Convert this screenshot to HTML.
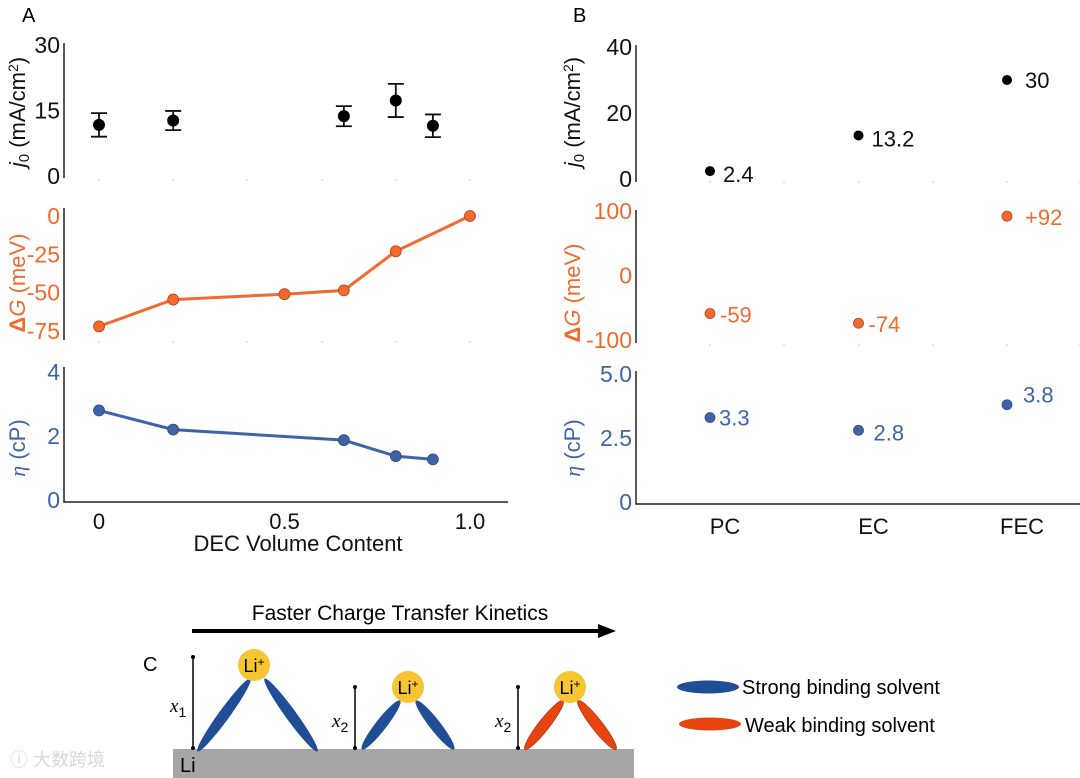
<!DOCTYPE html>
<html><head><meta charset="utf-8"><style>
html,body{margin:0;padding:0;background:#fff;}
svg{display:block;font-family:"Liberation Sans",Arial,sans-serif;}
</style></head><body>
<svg id="fig" width="1080" height="778" viewBox="0 0 1080 778" xmlns="http://www.w3.org/2000/svg">
<g id="gA"></g>
<g id="gB"></g>
<g id="gC">
  <text x="143" y="671" font-size="20">C</text>
  <text x="400" y="620" font-size="21" text-anchor="middle">Faster Charge Transfer Kinetics</text>
  <line x1="192" y1="631" x2="600" y2="631" stroke="#000" stroke-width="4"/>
  <polygon points="598,624 616,631 598,638" fill="#000"/>
  <rect x="173" y="749" width="461" height="29" fill="#a6a6a6"/>
  <text x="180" y="772" font-size="20">Li</text>
  <g>
    <line x1="193" y1="657" x2="193" y2="748" stroke="#000" stroke-width="1.5"/>
    <circle cx="193" cy="657" r="2"/><circle cx="193" cy="748" r="2"/>
    <text x="170" y="712" font-size="19" font-family="Liberation Serif,serif" font-style="italic">x<tspan font-size="14" font-style="normal" font-family="Liberation Sans,sans-serif" dy="5">1</tspan></text>
    <ellipse cx="224" cy="715" rx="45" ry="5.5" fill="#1f4e97" transform="rotate(-54 224 715)"/>
    <ellipse cx="291" cy="715" rx="45" ry="5.5" fill="#1f4e97" transform="rotate(54 291 715)"/>
    <circle cx="254" cy="665" r="16" fill="#f7c531"/>
    <text x="254" y="672" font-size="18" text-anchor="middle">Li<tspan font-size="12" dy="-6">+</tspan></text>
  </g>
  <g>
    <line x1="355" y1="687" x2="355" y2="748" stroke="#000" stroke-width="1.5"/>
    <circle cx="355" cy="687" r="2"/><circle cx="355" cy="748" r="2"/>
    <text x="332" y="727" font-size="19" font-family="Liberation Serif,serif" font-style="italic">x<tspan font-size="14" font-style="normal" font-family="Liberation Sans,sans-serif" dy="5">2</tspan></text>
    <ellipse cx="381" cy="725" rx="31" ry="5.5" fill="#1f4e97" transform="rotate(-52 381 725)"/>
    <ellipse cx="435" cy="725" rx="31" ry="5.5" fill="#1f4e97" transform="rotate(52 435 725)"/>
    <circle cx="408" cy="687" r="16" fill="#f7c531"/>
    <text x="408" y="694" font-size="18" text-anchor="middle">Li<tspan font-size="12" dy="-6">+</tspan></text>
  </g>
  <g>
    <line x1="518" y1="687" x2="518" y2="748" stroke="#000" stroke-width="1.5"/>
    <circle cx="518" cy="687" r="2"/><circle cx="518" cy="748" r="2"/>
    <text x="495" y="727" font-size="19" font-family="Liberation Serif,serif" font-style="italic">x<tspan font-size="14" font-style="normal" font-family="Liberation Sans,sans-serif" dy="5">2</tspan></text>
    <ellipse cx="544" cy="725" rx="31" ry="5.5" fill="#e8440f" stroke="#a02a05" stroke-width="0.6" transform="rotate(-52 544 725)"/>
    <ellipse cx="597" cy="725" rx="31" ry="5.5" fill="#e8440f" stroke="#a02a05" stroke-width="0.6" transform="rotate(52 597 725)"/>
    <circle cx="570" cy="687" r="16" fill="#f7c531"/>
    <text x="570" y="694" font-size="18" text-anchor="middle">Li<tspan font-size="12" dy="-6">+</tspan></text>
  </g>
  <g>
    <ellipse cx="708" cy="687" rx="31" ry="6.5" fill="#1f4e97"/>
    <text x="742" y="694" font-size="20">Strong binding solvent</text>
  </g>
  <g>
    <ellipse cx="710" cy="724" rx="31" ry="6.5" fill="#e8440f"/>
    <text x="745" y="732" font-size="20">Weak binding solvent</text>
  </g>
  <text x="10" y="766" font-size="18" fill="#d8d8d8" font-family="Liberation Sans,'Noto Sans CJK SC',sans-serif">ⓘ 大数跨境</text>
</g>
</svg>
<script>
// Panel A data
const decX = [0, 0.2, 0.66, 0.8, 0.9];
const j0A = [11.7, 12.7, 13.7, 17.3, 11.5];
const j0Err = [2.7, 2.2, 2.3, 3.8, 2.6];
const dgX = [0, 0.2, 0.5, 0.66, 0.8, 1.0];
const dgA = [-72, -54.5, -51, -48.5, -23, 0];
const etaX = [0, 0.2, 0.66, 0.8, 0.9];
const etaA = [2.8, 2.2, 1.87, 1.37, 1.27];
const xTicksA = [0, 0.5, 1.0];
const xTickLabelsA = ["0", "0.5", "1.0"];
const j0TicksA = [0, 15, 30];
const dgTicksA = [0, -25, -50, -75];
const etaTicksA = [0, 2, 4];
// Panel B data
const solvents = ["PC", "EC", "FEC"];
const j0B = [2.4, 13.2, 30];
const j0LabelsB = ["2.4", "13.2", "30"];
const dgB = [-59, -74, 92];
const dgLabelsB = ["-59", "-74", "+92"];
const etaB = [3.3, 2.8, 3.8];
const etaLabelsB = ["3.3", "2.8", "3.8"];
const j0TicksB = [0, 20, 40];
const dgTicksB = [100, 0, -100];
const etaTicksB = [0, 2.5, 5.0];
const etaTickLabelsB = ["0", "2.5", "5.0"];

const NS = "http://www.w3.org/2000/svg";
const ORANGE = "#f26a2e", BLUE = "#3f63a8";
function mk(parent, tag, attrs, text){
  const e = document.createElementNS(NS, tag);
  for (const k in attrs) e.setAttribute(k, attrs[k]);
  if (text !== undefined) e.textContent = text;
  parent.appendChild(e);
  return e;
}
const lin = (d0,d1,r0,r1)=>v=>r0+(v-d0)*(r1-r0)/(d1-d0);

// ---------- Panel A ----------
const gA = document.getElementById('gA');
const xA = lin(0,1,99,470);
const yJ = lin(0,30,176,45);
const yG = lin(0,-75,216,331);
const yE = lin(0,4,500,372);
let t = mk(gA,'text',{x:22,y:22,'font-size':20},'A');



function axisY(g, x, y0, y1){
  const l = mk(g,'line',{x1:x,y1:y0,x2:x,y2:y1,stroke:'#222','stroke-width':1.5});
  
  
}
function yTicks(g, x, ticks, labels, scale, color, name){
  ticks.forEach((v,i)=>{
    const e = mk(g,'text',{x:x,y:scale(v)+8,'font-size':23,'text-anchor':'end',fill:color}, labels? labels[i] : String(v));
    
    
  });
}
function yTitle(g, cx, cy, parts, color, name){
  const e = mk(g,'text',{x:0,y:0,'font-size':22,'text-anchor':'middle',fill:color,transform:`translate(${cx},${cy}) rotate(-90)`});
  e.innerHTML = parts;
  
  
}
function sepDots(g, xs, y){
  xs.forEach(x=>{ mk(g,'circle',{cx:x,cy:y,r:1,fill:'#ddd'}); });
}
const sepA = [99,173,247,322,396,470];

// top A
axisY(gA,64,43,178);
yTicks(gA,60,j0TicksA,null,yJ,'#111','j0-a');
yTitle(gA,25,112,'<tspan font-style="italic">j</tspan><tspan font-size="15" dy="4">0</tspan><tspan dy="-4"> (mA/cm</tspan><tspan font-size="14" dy="-7">2</tspan><tspan dy="7">)</tspan>','#111','j0-a-axis-title');
sepDots(gA,sepA,180);
decX.forEach((x,i)=>{
  const cx = xA(x), top = yJ(j0A[i]+j0Err[i]), bot = yJ(j0A[i]-j0Err[i]);
  const eb = mk(gA,'path',{d:`M${cx-8},${top}H${cx+8}M${cx},${top}V${bot}M${cx-8},${bot}H${cx+8}`,stroke:'#111','stroke-width':1.8,fill:'none'});
  
  
  const c = mk(gA,'circle',{cx:cx,cy:yJ(j0A[i]),r:6,fill:'#000'});
  
  
});
// middle A
axisY(gA,64,208,340);
yTicks(gA,60,dgTicksA,null,yG,ORANGE,'dg-a');
yTitle(gA,25,283,'<tspan font-weight="bold">Δ</tspan><tspan font-style="italic">G</tspan> (meV)',ORANGE,'dg-a-axis-title');
sepDots(gA,sepA,342);
let p = mk(gA,'polyline',{points:dgX.map((x,i)=>xA(x)+','+yG(dgA[i])).join(' '),fill:'none',stroke:ORANGE,'stroke-width':3});


dgX.forEach((x,i)=>{
  const c = mk(gA,'circle',{cx:xA(x),cy:yG(dgA[i]),r:5.5,fill:ORANGE,stroke:'#b5441a','stroke-width':0.8});
  
  
});
// bottom A
mk(gA,'path',{d:'M64,367V502H508',stroke:'#222','stroke-width':1.5,fill:'none'});
yTicks(gA,60,etaTicksA,null,yE,BLUE,'eta-a');
yTitle(gA,25,448,'<tspan font-style="italic" font-family="Liberation Serif,serif">η</tspan> (cP)',BLUE,'eta-a-axis-title');
p = mk(gA,'polyline',{points:etaX.map((x,i)=>xA(x)+','+yE(etaA[i])).join(' '),fill:'none',stroke:BLUE,'stroke-width':3});


etaX.forEach((x,i)=>{
  const c = mk(gA,'circle',{cx:xA(x),cy:yE(etaA[i]),r:5.5,fill:BLUE,stroke:'#2d4a80','stroke-width':0.8});
  
  
});
xTicksA.forEach((v,i)=>{
  const e = mk(gA,'text',{x:xA(v),y:529,'font-size':22,'text-anchor':'middle',fill:'#111'},xTickLabelsA[i]);
  
  
});
t = mk(gA,'text',{x:298,y:551,'font-size':22,'text-anchor':'middle',fill:'#111'},'DEC Volume Content');



// ---------- Panel B ----------
const gB = document.getElementById('gB');
const xB = i => 710 + i*148.5;
const yJB = lin(0,40,179,47);
const yGB = lin(0,100,275.5,211);
const yEB = lin(0,5,502,374);
t = mk(gB,'text',{x:573,y:22,'font-size':20},'B');


const sepB = [710,784,859,933,1007,1080];
// top B
axisY(gB,636,45,182);
yTicks(gB,632,j0TicksB,null,yJB,'#111','j0-b');
yTitle(gB,580,112,'<tspan font-style="italic">j</tspan><tspan font-size="15" dy="4">0</tspan><tspan dy="-4"> (mA/cm</tspan><tspan font-size="14" dy="-7">2</tspan><tspan dy="7">)</tspan>','#111','j0-b-axis-title');
sepDots(gB,sepB,182);
solvents.forEach((s,i)=>{
  const c = mk(gB,'circle',{cx:xB(i),cy:yJB(j0B[i]),r:5,fill:'#000'});
  
  
  const e = mk(gB,'text',{x:xB(i)+(i==2?18:13),y:yJB(j0B[i])+(i==2?8:11),'font-size':22,fill:'#111'},j0LabelsB[i]);
  
  
});
// middle B
axisY(gB,636,210,343);
yTicks(gB,632,dgTicksB,null,yGB,ORANGE,'dg-b');
yTitle(gB,580,293,'<tspan font-weight="bold">Δ</tspan><tspan font-style="italic">G</tspan> (meV)',ORANGE,'dg-b-axis-title');
sepDots(gB,sepB,345);
solvents.forEach((s,i)=>{
  const c = mk(gB,'circle',{cx:xB(i),cy:yGB(dgB[i]),r:5,fill:ORANGE,stroke:'#b5441a','stroke-width':0.8});
  
  
  const e = mk(gB,'text',{x:xB(i)+(i==2?18:10),y:yGB(dgB[i])+9,'font-size':22,fill:ORANGE},dgLabelsB[i]);
  
  
});
// bottom B
mk(gB,'path',{d:'M636,371V504H1080',stroke:'#222','stroke-width':1.5,fill:'none'});
yTicks(gB,632,etaTicksB,etaTickLabelsB,yEB,BLUE,'eta-b');
yTitle(gB,580,448,'<tspan font-style="italic" font-family="Liberation Serif,serif">η</tspan> (cP)',BLUE,'eta-b-axis-title');
solvents.forEach((s,i)=>{
  const c = mk(gB,'circle',{cx:xB(i),cy:yEB(etaB[i]),r:5,fill:BLUE,stroke:'#2d4a80','stroke-width':0.8});
  
  
  const e = mk(gB,'text',{x:xB(i)+(i==2?16:(i==1?15:9)),y:yEB(etaB[i])+(i==2?-2:(i==1?10:8)),'font-size':22,fill:BLUE},etaLabelsB[i]);
  
  
  const tl = mk(gB,'text',{x:xB(i)+15,y:534,'font-size':22,'text-anchor':'middle',fill:'#111'},s);
  
  
});
</script>
</body></html>
